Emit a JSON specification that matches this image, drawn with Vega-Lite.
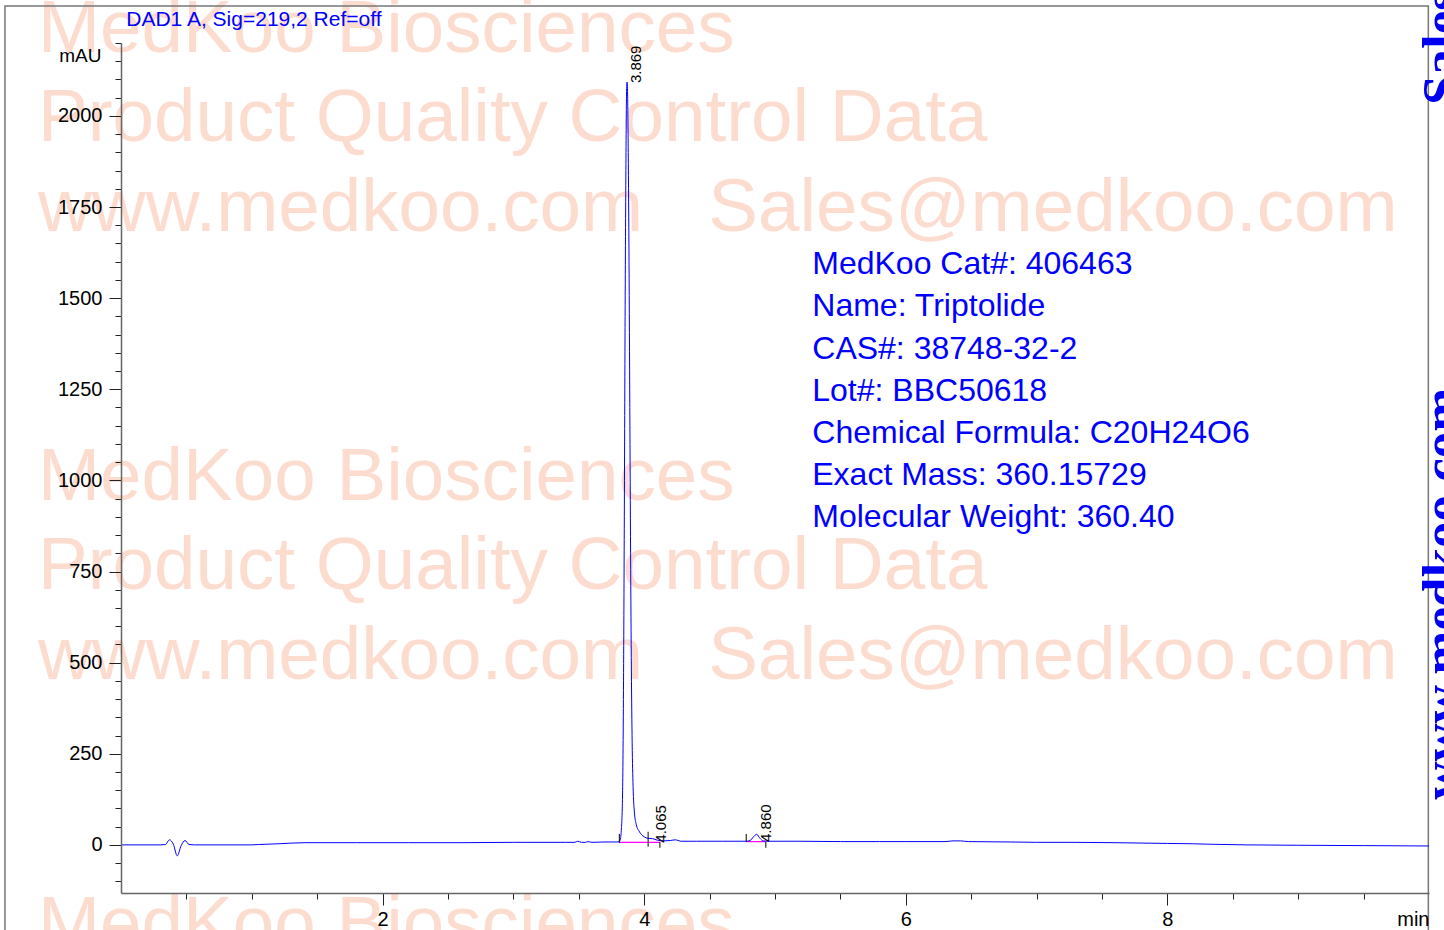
{
  "$schema": "https://vega.github.io/schema/vega-lite/v6.json",
  "width": 1308,
  "height": 850,
  "autosize": {"type": "none"},
  "padding": {"left": 121, "top": 43, "right": 15, "bottom": 37},
  "background": "white",
  "config": {"view": {"stroke": null}, "font": "Liberation Sans", "axis": {"grid": false}},
  "datasets": {
    "chrom": [
      {"x": 0, "y": 0}, {"x": 0.3, "y": 0}, {"x": 0.34, "y": 1}, {"x": 0.37, "y": 14}, {"x": 0.4, "y": 2},
      {"x": 0.43, "y": -30}, {"x": 0.46, "y": -2}, {"x": 0.49, "y": 12}, {"x": 0.52, "y": 1}, {"x": 0.56, "y": 0},
      {"x": 1.0, "y": 0}, {"x": 1.05, "y": 1}, {"x": 1.2, "y": 3}, {"x": 1.4, "y": 6}, {"x": 1.8, "y": 6},
      {"x": 2.2, "y": 6}, {"x": 2.6, "y": 6}, {"x": 3.0, "y": 7}, {"x": 3.4, "y": 7}, {"x": 3.47, "y": 7},
      {"x": 3.49, "y": 10}, {"x": 3.52, "y": 7}, {"x": 3.55, "y": 7}, {"x": 3.57, "y": 9}, {"x": 3.6, "y": 7},
      {"x": 3.7, "y": 8}, {"x": 3.8, "y": 8}, {"x": 3.815, "y": 12}, {"x": 3.825, "y": 40}, {"x": 3.835, "y": 150},
      {"x": 3.842, "y": 450}, {"x": 3.848, "y": 900}, {"x": 3.854, "y": 1450}, {"x": 3.86, "y": 1850}, {"x": 3.865, "y": 2060},
      {"x": 3.869, "y": 2093}, {"x": 3.873, "y": 2060}, {"x": 3.878, "y": 1900}, {"x": 3.884, "y": 1600}, {"x": 3.89, "y": 1200},
      {"x": 3.896, "y": 800}, {"x": 3.902, "y": 480}, {"x": 3.908, "y": 280}, {"x": 3.915, "y": 160}, {"x": 3.925, "y": 90},
      {"x": 3.94, "y": 55}, {"x": 3.96, "y": 38}, {"x": 3.98, "y": 28}, {"x": 4.0, "y": 22}, {"x": 4.03, "y": 18},
      {"x": 4.065, "y": 17}, {"x": 4.1, "y": 13}, {"x": 4.15, "y": 11}, {"x": 4.2, "y": 12}, {"x": 4.24, "y": 14},
      {"x": 4.28, "y": 10}, {"x": 4.4, "y": 10}, {"x": 4.6, "y": 10}, {"x": 4.78, "y": 10}, {"x": 4.81, "y": 12},
      {"x": 4.835, "y": 22}, {"x": 4.86, "y": 29}, {"x": 4.885, "y": 18}, {"x": 4.91, "y": 11}, {"x": 4.95, "y": 10},
      {"x": 5.2, "y": 10}, {"x": 5.5, "y": 9}, {"x": 5.8, "y": 9}, {"x": 6.0, "y": 9}, {"x": 6.3, "y": 9},
      {"x": 6.36, "y": 11}, {"x": 6.42, "y": 11}, {"x": 6.48, "y": 9}, {"x": 6.8, "y": 8}, {"x": 7.0, "y": 7},
      {"x": 7.3, "y": 7}, {"x": 7.6, "y": 6}, {"x": 7.8, "y": 5}, {"x": 8.0, "y": 4}, {"x": 8.2, "y": 3},
      {"x": 8.3, "y": 2}, {"x": 8.6, "y": 0}, {"x": 9.0, "y": -1}, {"x": 9.5, "y": -2}, {"x": 10, "y": -3}
    ],
    "watermark": [
      {"x": -0.635, "y": 2175, "text": "MedKoo Biosciences"},
      {"x": -0.635, "y": 1931, "text": "Product Quality Control Data"},
      {"x": -0.635, "y": 1684, "text": "www.medkoo.com"},
      {"x": 4.49, "y": 1684, "text": "Sales@medkoo.com"},
      {"x": -0.635, "y": 946, "text": "MedKoo Biosciences"},
      {"x": -0.635, "y": 702, "text": "Product Quality Control Data"},
      {"x": -0.635, "y": 455, "text": "www.medkoo.com"},
      {"x": 4.49, "y": 455, "text": "Sales@medkoo.com"},
      {"x": -0.635, "y": -283, "text": "MedKoo Biosciences"}
    ],
    "info": [
      {"x": 5.285, "y": 1566, "text": "MedKoo Cat#: 406463"},
      {"x": 5.285, "y": 1450, "text": "Name: Triptolide"},
      {"x": 5.285, "y": 1334, "text": "CAS#: 38748-32-2"},
      {"x": 5.285, "y": 1219, "text": "Lot#: BBC50618"},
      {"x": 5.285, "y": 1103, "text": "Chemical Formula: C20H24O6"},
      {"x": 5.285, "y": 987, "text": "Exact Mass: 360.15729"},
      {"x": 5.285, "y": 871, "text": "Molecular Weight: 360.40"}
    ],
    "peaks": [
      {"x": 3.937, "y": 2090, "text": "3.869"},
      {"x": 4.128, "y": 6, "text": "4.065"},
      {"x": 4.935, "y": 8, "text": "4.860"}
    ],
    "baselines": [
      {"x": 3.81, "x2": 4.12, "y": 7},
      {"x": 4.78, "x2": 4.93, "y": 9}
    ],
    "marks": [
      {"x": 3.81, "y": 5, "y2": 30},
      {"x": 4.03, "y": -5, "y2": 36},
      {"x": 4.12, "y": -8, "y2": 8},
      {"x": 4.78, "y": 8, "y2": 30},
      {"x": 4.93, "y": -8, "y2": 8}
    ],
    "side": [
      {"x": 10.23, "y": 123.5, "text": "www.medkoo.com"},
      {"x": 10.23, "y": 2030, "text": "Sales@medkoo.com"}
    ],
    "title": [
      {"x": 0.04, "y": 2247, "text": "DAD1 A, Sig=219,2 Ref=off"}
    ],
    "frame": [
      {"x": -0.887, "x2": 9.995, "y": 2301.8, "y2": -400}
    ]
  },
  "encoding": {
    "x": {
      "field": "x", "type": "quantitative",
      "scale": {"domain": [0, 10], "nice": false, "zero": false},
      "axis": {
        "title": null, "zindex": 1, "grid": false,
        "values": [0.5, 1, 1.5, 2, 2.5, 3, 3.5, 4, 4.5, 5, 5.5, 6, 6.5, 7, 7.5, 8, 8.5, 9, 9.5, 10],
        "labelExpr": "datum.value == 10 ? 'min' : (datum.value % 2 == 0 ? '' + datum.value : '')",
        "labelAlign": {"condition": {"test": "datum.value == 10", "value": "right"}, "value": "center"},
        "tickSize": {"condition": {"test": "datum.value % 2 == 0", "value": 12}, "value": 6},
        "tickOpacity": {"condition": {"test": "datum.value == 10", "value": 0}, "value": 1},
        "labelFont": "Liberation Sans", "labelFontSize": 20, "labelColor": "#000000",
        "labelPadding": 4, "labelFlush": false, "labelOverlap": false,
        "domainColor": "#666666", "domainWidth": 1.5, "tickColor": "#222222", "tickWidth": 1
      }
    },
    "y": {
      "field": "y", "type": "quantitative",
      "scale": {"domain": [-132, 2200], "nice": false, "zero": false},
      "axis": {
        "title": "mAU", "titleAngle": 0, "titleX": -20, "titleY": 12, "titleAlign": "right", "titleBaseline": "middle",
        "titleFont": "Liberation Sans", "titleFontSize": 19, "titleFontWeight": "normal", "titleColor": "#000000",
        "zindex": 1, "grid": false,
        "values": [-100, -50, 0, 50, 100, 150, 200, 250, 300, 350, 400, 450, 500, 550, 600, 650, 700, 750, 800, 850, 900, 950, 1000, 1050, 1100, 1150, 1200, 1250, 1300, 1350, 1400, 1450, 1500, 1550, 1600, 1650, 1700, 1750, 1800, 1850, 1900, 1950, 2000, 2050, 2100, 2150, 2200],
        "labelExpr": "(datum.value % 250 == 0 && datum.value >= 0 && datum.value <= 2000) ? '' + datum.value : ''",
        "tickSize": {"condition": {"test": "datum.value % 250 == 0", "value": 12}, "value": 6},
        "labelFont": "Liberation Sans", "labelFontSize": 20, "labelColor": "#000000",
        "labelPadding": 7, "labelOverlap": false, "labelFlush": false,
        "domainColor": "#666666", "domainWidth": 1.5, "tickColor": "#222222", "tickWidth": 1
      }
    }
  },
  "layer": [
    {
      "data": {"name": "watermark"},
      "mark": {"type": "text", "font": "Liberation Sans", "fontSize": 74.6, "align": "left", "baseline": "alphabetic", "color": "#FDDCD0"},
      "encoding": {"text": {"field": "text"}}
    },
    {
      "data": {"name": "frame"},
      "mark": {"type": "rect", "fillOpacity": 0, "stroke": "#777777", "strokeWidth": 1.5},
      "encoding": {"x2": {"field": "x2"}, "y2": {"field": "y2"}}
    },
    {
      "data": {"name": "baselines"},
      "mark": {"type": "rule", "color": "#FF00FF", "strokeWidth": 1.2},
      "encoding": {"x2": {"field": "x2"}}
    },
    {
      "data": {"name": "chrom"},
      "mark": {"type": "line", "color": "#0000FF", "strokeWidth": 1, "interpolate": "monotone"},
      "encoding": {}
    },
    {
      "data": {"name": "marks"},
      "mark": {"type": "rule", "color": "#000000", "strokeWidth": 1},
      "encoding": {"y2": {"field": "y2"}}
    },
    {
      "data": {"name": "peaks"},
      "mark": {"type": "text", "angle": 270, "align": "left", "baseline": "middle", "font": "Liberation Sans", "fontSize": 15, "color": "#000000"},
      "encoding": {"text": {"field": "text"}}
    },
    {
      "data": {"name": "info"},
      "mark": {"type": "text", "align": "left", "baseline": "alphabetic", "font": "Liberation Sans", "fontSize": 32, "color": "#0000FF"},
      "encoding": {"text": {"field": "text"}}
    },
    {
      "data": {"name": "title"},
      "mark": {"type": "text", "align": "left", "baseline": "alphabetic", "font": "Liberation Sans", "fontSize": 21, "color": "#0000FF"},
      "encoding": {"text": {"field": "text"}}
    },
    {
      "data": {"name": "side"},
      "mark": {"type": "text", "angle": 270, "align": "left", "baseline": "alphabetic", "font": "Liberation Serif", "fontWeight": "bold", "fontSize": 53, "color": "#0000EE"},
      "encoding": {"text": {"field": "text"}}
    }
  ]
}
